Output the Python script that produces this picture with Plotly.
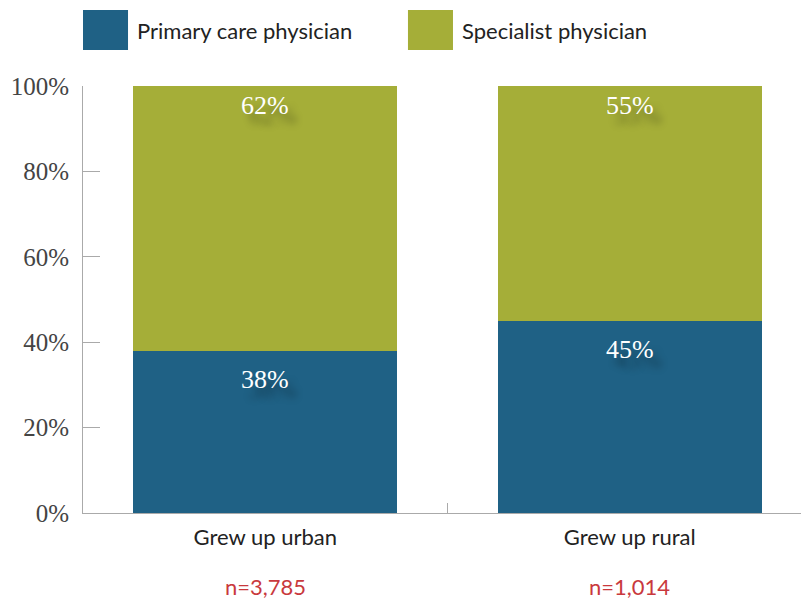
import plotly.graph_objects as go

# Data
categories = ["Grew up urban", "Grew up rural"]
sample_sizes = ["n=3,785", "n=1,014"]
series_names = ["Primary care physician", "Specialist physician"]
primary_care = [38, 45]
specialist = [62, 55]
series_colors = ["#1f6185", "#a5ae38"]
y_ticks = [0, 20, 40, 60, 80, 100]

label_font = dict(family="Liberation Serif, serif", size=26, color="white",
                  shadow="8px 10px 7px rgba(0,0,0,0.35)")

fig = go.Figure()
base = [0] * len(categories)
label_offsets = [-29, -19]  # pixels below each segment's top edge
for name, vals, col, off in zip(series_names, [primary_care, specialist],
                                series_colors, label_offsets):
    fig.add_trace(go.Bar(
        x=categories, y=vals, name=name,
        marker=dict(color=col, line=dict(width=0)),
        width=0.725,
        showlegend=False,
    ))
    # value labels near the top of each segment
    base = [b + v for b, v in zip(base, vals)]
    for c, top, v in zip(categories, base, vals):
        fig.add_annotation(x=c, y=top, yshift=off, text=f"{v}%",
                           showarrow=False, yanchor="middle", font=label_font)

# Sample sizes under each category
for c, n in zip(categories, sample_sizes):
    fig.add_annotation(x=c, xref="x", yref="paper", y=-0.171, text=n,
                       showarrow=False, yanchor="middle",
                       font=dict(family="Lato, sans-serif", size=22, color="#c9393d"))

# Legend drawn as large swatches across the top
legend_x = [0.0, 0.4526]
for name, col, lx in zip(series_names, series_colors, legend_x):
    fig.add_shape(type="rect", xref="paper", yref="paper",
                  x0=lx, x1=lx + 0.0627, y0=1 + 36 / 427, y1=1 + 76 / 427,
                  fillcolor=col, line=dict(width=0))
    fig.add_annotation(xref="paper", yref="paper", x=lx + 0.0724, y=1 + 56 / 427,
                       text=name, showarrow=False, xanchor="left", yanchor="middle",
                       font=dict(family="Lato, sans-serif", size=22, color="#222"))

fig.update_layout(
    width=801, height=599,
    margin=dict(l=83, r=0, t=86, b=86),
    barmode="stack",
    paper_bgcolor="white", plot_bgcolor="white",
    showlegend=False,
    xaxis=dict(
        range=[-0.5, 1.47],
        tickson="boundaries", ticks="inside", ticklen=10, tickcolor="#aaa",
        showline=True, linecolor="#aaa", linewidth=1,
        showgrid=False, zeroline=False,
        tickfont=dict(family="Lato, sans-serif", size=22, color="#222"),
        ticklabelstandoff=5,
    ),
    yaxis=dict(
        range=[0, 100],
        tickvals=y_ticks,
        ticktext=[f"{v}%" for v in y_ticks],
        ticks="inside", ticklen=17, tickcolor="#aaa",
        showline=True, linecolor="#aaa", linewidth=1,
        showgrid=False, zeroline=False,
        tickfont=dict(family="Liberation Serif, serif", size=25, color="#444"),
        ticklabelstandoff=8,
    ),
)

fig.write_html("out.html")
